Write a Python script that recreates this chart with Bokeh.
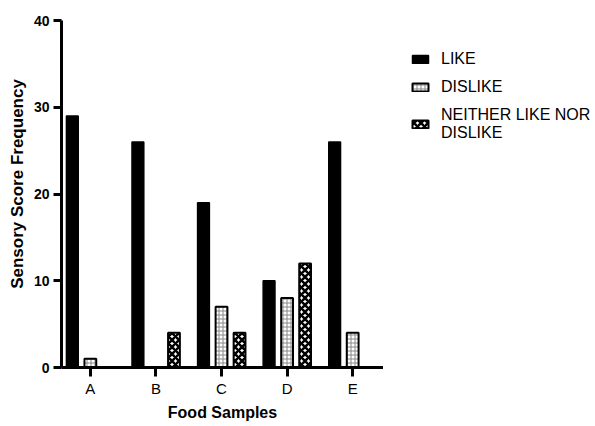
from bokeh.plotting import figure
from bokeh.layouts import row
from bokeh.models import Range1d, FixedTicker, Legend, LegendItem, ColumnDataSource
from bokeh.transform import dodge
from bokeh.embed import file_html
from bokeh.resources import INLINE

samples = ["A", "B", "C", "D", "E"]
like = [29, 26, 19, 10, 26]
dislike = [1, 0, 7, 8, 4]
neither = [0, 4, 4, 12, 0]
series = ["LIKE", "DISLIKE", "NEITHER LIKE NOR\nDISLIKE"]
yticks = [0, 10, 20, 30, 40]

xs = list(range(len(samples)))
src = ColumnDataSource(dict(x=xs, like=like, dislike=dislike, neither=neither))

FONT = "Liberation Sans"
YMAX = yticks[-1]
YTOP = YMAX * 367 / 347   # frame goes to the top edge; axis line stops at 40

LIKE_STYLE = dict(fill_color="black", line_color="black", line_width=1.5)
DIS_STYLE = dict(fill_color="white", line_color="black", line_width=2,
                 hatch_pattern="+", hatch_color="#888888", hatch_scale=4, hatch_weight=1)
NEI_STYLE = dict(fill_color="white", line_color="black", line_width=2,
                 hatch_pattern="x", hatch_color="black", hatch_scale=7, hatch_weight=2.5)

p = figure(width=383, height=426, output_backend="svg", toolbar_location=None,
           x_range=Range1d(-0.44, 4.47), y_range=Range1d(0, YTOP),
           min_border_left=61, min_border_right=0, min_border_top=0,
           min_border_bottom=59)
p.outline_line_color = None
p.grid.visible = False
p.background_fill_color = "white"
p.border_fill_color = "white"

w = 0.18
p.vbar(x=dodge("x", -0.275, range=p.x_range), top="like", width=w, source=src, **LIKE_STYLE)
p.vbar(x=dodge("x", 0.0, range=p.x_range), top="dislike", width=w, source=src, **DIS_STYLE)
p.vbar(x=dodge("x", 0.275, range=p.x_range), top="neither", width=w, source=src, **NEI_STYLE)

p.xaxis.ticker = FixedTicker(ticks=xs)
p.xaxis.major_label_overrides = {i: s for i, s in enumerate(samples)}
p.yaxis.ticker = FixedTicker(ticks=yticks)
p.yaxis.bounds = (0, YMAX)

for ax in (p.xaxis, p.yaxis):
    ax.axis_line_width = 3
    ax.axis_line_color = "black"
    ax.major_tick_line_width = 3
    ax.major_tick_line_color = "black"
    ax.major_tick_in = 0
    ax.minor_tick_line_color = None
    ax.major_label_text_font = FONT
    ax.major_label_text_color = "black"
    ax.axis_label_text_font = FONT
    ax.axis_label_text_font_style = "bold"
    ax.axis_label_text_color = "black"

p.xaxis.major_tick_out = 9
p.xaxis.major_label_text_font_size = "15px"
p.xaxis.major_label_standoff = 3
p.xaxis.axis_label = "Food Samples"
p.xaxis.axis_label_text_font_size = "16px"
p.xaxis.axis_label_standoff = 4

p.yaxis.major_tick_out = 8
p.yaxis.major_label_text_font_size = "14px"
p.yaxis.major_label_text_font_style = "bold"
p.yaxis.major_label_standoff = 4
p.yaxis.axis_label = "Sensory Score Frequency"
p.yaxis.axis_label_text_font_size = "17px"
p.yaxis.axis_label_standoff = 4

# legend panel (its renderers are hidden; only their legend swatches show)
q = figure(width=212, height=426, output_backend="svg", toolbar_location=None,
           x_axis_type=None, y_axis_type=None,
           x_range=Range1d(0, 1), y_range=Range1d(0, 1), min_border=0)
q.outline_line_color = None
q.grid.visible = False
q.background_fill_color = "white"
q.border_fill_color = "white"
k1 = q.vbar(x="x", top="like", width=w, source=src, visible=False, **LIKE_STYLE)
k2 = q.vbar(x="x", top="dislike", width=w, source=src, visible=False, **DIS_STYLE)
k3 = q.vbar(x="x", top="neither", width=w, source=src, visible=False, **NEI_STYLE)

legend = Legend(items=[LegendItem(label=series[0], renderers=[k1]),
                       LegendItem(label=series[1], renderers=[k2]),
                       LegendItem(label=series[2], renderers=[k3])],
                location=(27, 225), orientation="vertical",
                glyph_width=20, glyph_height=10, label_standoff=11,
                spacing=10, padding=2, margin=0,
                label_text_font=FONT, label_text_font_size="16px",
                label_text_line_height=1.0,
                label_text_color="black", border_line_color=None,
                background_fill_alpha=0, inactive_fill_alpha=0)
q.add_layout(legend, "center")

layout = row(p, q, spacing=0)
open("out.html", "w").write(file_html(layout, INLINE))
